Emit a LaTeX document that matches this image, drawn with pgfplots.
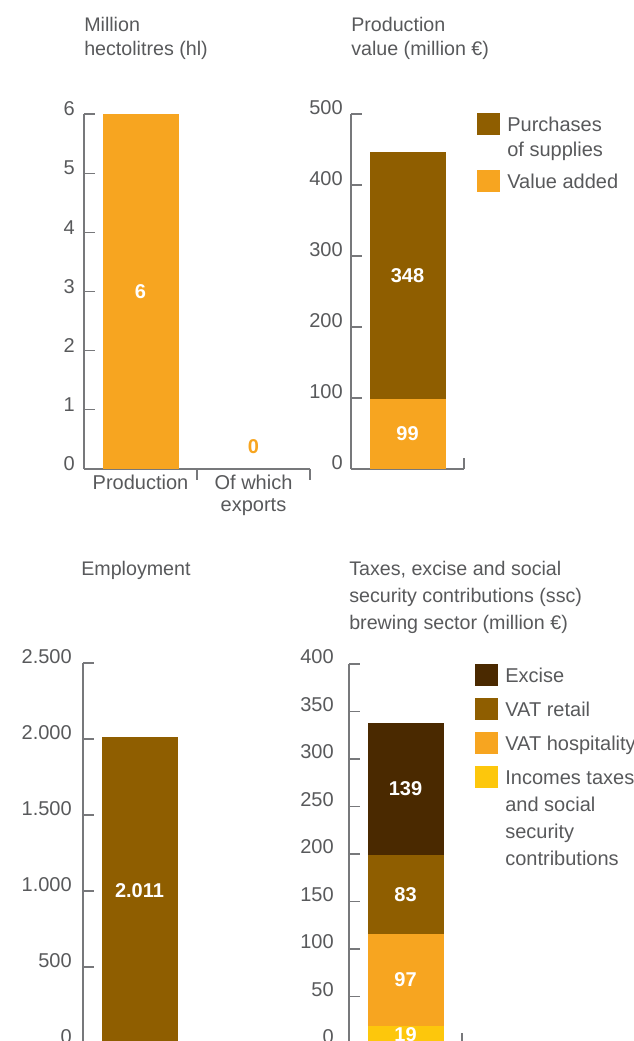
\documentclass[border=0pt]{standalone}
\usepackage{fontspec}
\setmainfont{Liberation Sans}
\usepackage{pgfplots}
\pgfplotsset{compat=1.18}

\definecolor{barorange}{HTML}{F7A520}
\definecolor{barbrown}{HTML}{8F5E00}
\definecolor{bardark}{HTML}{4A2900}
\definecolor{baryellow}{HTML}{FDC70C}
\definecolor{txtgray}{HTML}{58595B}
\definecolor{axgray}{HTML}{77787B}

\newcommand{\fs}{\fontsize{15}{18}\selectfont}

\pgfplotsset{
  panel/.style={
    scale only axis,
    width=84.75pt,
    clip=false,
    axis lines*=left,
    axis line style={-, draw=axgray, line width=0.8pt},
    tick align=inside,
    major tick length=8pt,
    tick style={draw=axgray, line width=0.8pt},
    xmin=-0.5, xmax=0.5,
    ymin=0,
    xtick={0.5}, xticklabels={},
    tick label style={font=\fs, text=txtgray},
    yticklabel style={inner sep=0pt},
    /pgf/number format/assume math mode=true,
    /pgf/number format/1000 sep={.},
  },
  % label in the middle of a single bar
  vals/.style={
    visualization depends on={rawy \as \rawy},
    nodes near coords={\pgfmathprintnumber{\rawy}},
    every node near coord/.append style={anchor=center, inner sep=0pt,
      font=\bfseries\fs, text=white,
      shift={(axis direction cs:0,-\rawy/2)}},
  },
  % stacked segments: pgfplots already puts the label mid-segment
  svals/.style={
    visualization depends on={rawy \as \rawy},
    nodes near coords={\pgfmathprintnumber{\rawy}},
    every node near coord/.append style={anchor=center, inner sep=0pt,
      font=\bfseries\fs, text=white},
  },
  boxlegend/.style={
    legend style={draw=none, fill=none, at={(1,1)}, anchor=north west,
      inner sep=0pt, outer sep=0pt, row sep=7pt, column sep=5.5pt,
      cells={anchor=base west},
      nodes={inner sep=0pt, text depth={}, text=txtgray, font=\fs}},
    legend image code/.code={\fill[##1] (0pt,-2.5pt) rectangle (17.25pt,14pt); \path (0pt,-4.5pt);},
    reverse legend,
  },
}

\begin{document}
\begin{tikzpicture}
\useasboundingbox (0,0) rectangle (474.75pt,780.75pt);
\clip (0,0) rectangle (474.75pt,780.75pt);

% volume
\begin{axis}[panel, at={(63pt,429pt)}, anchor=south west,
  width=169.5pt, height=266.25pt,
  xmin=-0.5, xmax=1.5, ymax=6, ytick={0,1,...,6},
  ybar, bar width=57pt, bar shift=0pt,
  xtick={0.5,1.5},
  extra x ticks={0,1},
  extra x tick labels={Production, Of which\\exports},
  extra x tick style={major tick length=0pt},
  xticklabel style={anchor=north, inner sep=0pt, yshift=-4.5pt, align=center,
    font=\fontsize{15}{16.5}\selectfont},
  yticklabel style={xshift=-6.75pt, yshift=3.75pt},
]
\addplot[fill=barorange, draw=none, vals] coordinates {(0,6)};
\addplot[fill=none, draw=none, nodes near coords,
  every node near coord/.append style={anchor=center, inner sep=0pt,
    font=\bfseries\fs, text=barorange, yshift=16.5pt}]
  coordinates {(1,0)};
\end{axis}

% production value
\begin{axis}[panel, at={(263.25pt,429pt)}, anchor=south west,
  height=266.25pt, ymax=500, ytick={0,100,...,500},
  ybar stacked, bar width=57pt, bar shift=0pt, boxlegend,
  yticklabel style={xshift=-6pt, yshift=4.5pt},
  legend style={xshift=9.75pt, yshift=0.75pt},
]
\addplot[fill=barorange, draw=none, svals] coordinates {(0,99)};
\addlegendentry{Value added}
\addplot[fill=barbrown, draw=none, svals] coordinates {(0,348)};
\addlegendentry{\vtop{\baselineskip=18.75pt\hbox{Purchases}\hbox{of supplies}}}
\end{axis}

% employment
\begin{axis}[panel, at={(62.25pt,-1.5pt)}, anchor=south west,
  height=285pt, ymax=2500, ytick={0,500,...,2500},
  ybar, bar width=57pt, bar shift=0pt,
  yticklabel style={xshift=-8.25pt, yshift=4.5pt},
]
\addplot[fill=barbrown, draw=none, vals] coordinates {(0,2011)};
\end{axis}

% taxes
\begin{axis}[panel, at={(261.75pt,-2.25pt)}, anchor=south west,
  height=285pt, ymax=400, ytick={0,50,...,400},
  ybar stacked, bar width=57pt, bar shift=0pt, boxlegend,
  yticklabel style={xshift=-11.25pt, yshift=5.25pt},
  legend style={xshift=9.75pt, yshift=0pt},
]
\addplot[fill=baryellow, draw=none, svals] coordinates {(0,19)};
\addlegendentry{\vtop{\baselineskip=20.25pt\hbox{Incomes taxes}\hbox{and social}\hbox{security}\hbox{contributions}}}
\addplot[fill=barorange, draw=none, svals] coordinates {(0,97)};
\addlegendentry{VAT hospitality}
\addplot[fill=barbrown, draw=none, svals] coordinates {(0,83)};
\addlegendentry{VAT retail}
\addplot[fill=bardark, draw=none, svals] coordinates {(0,139)};
\addlegendentry{Excise}
\end{axis}

\begin{scope}[every node/.style={anchor=base west, inner sep=0pt, text=txtgray,
    font=\fontsize{14.75}{18}\selectfont}]
\node at (63pt,756.75pt) {Million};
\node at (63pt,738.75pt) {hectolitres (hl)};
\node at (263.25pt,756.75pt) {Production};
\node at (263.25pt,738.75pt) {value (million €)};
\node at (60.75pt,348.75pt) {Employment};
\node at (261.75pt,348.75pt) {Taxes, excise and social};
\node at (261.75pt,328.5pt) {security contributions (ssc)};
\node at (261.75pt,308.25pt) {brewing sector (million €)};
\end{scope}
\end{tikzpicture}
\end{document}
